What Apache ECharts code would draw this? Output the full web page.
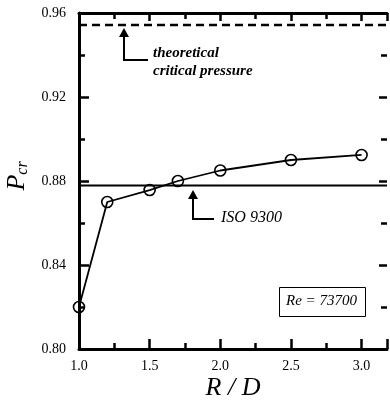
<!DOCTYPE html>
<html><head><meta charset="utf-8">
<script src="https://cdn.jsdelivr.net/npm/echarts@6/dist/echarts.min.js"></script>
<style>html,body{margin:0;padding:0;background:#fff}#c{width:390px;height:402px}</style>
</head><body><div id="c"></div>
<script>
const rdValues = [1.0, 1.2, 1.5, 1.7, 2.0, 2.5, 3.0];
const pcrValues = [0.820, 0.870, 0.8757, 0.880, 0.885, 0.890, 0.8924];
const isoValue = 0.8778;
const theoreticalValue = 0.9543;
const yTicks = [0.80, 0.84, 0.88, 0.92, 0.96];
const xTickLabels = ['1.0', '1.5', '2.0', '2.5', '3.0'];

const serif = '"Liberation Serif", "DejaVu Serif", serif';
const chart = echarts.init(document.getElementById('c'), null, {renderer: 'canvas'});
const axisCommon = {
  type: 'value',
  axisLine: {show: true, lineStyle: {color: '#000', width: 3}},
  splitLine: {show: false},
};
chart.setOption({
  animation: false,
  backgroundColor: '#fff',
  grid: {left: 79, right: 0, top: 13, bottom: 53},
  xAxis: [
    Object.assign({}, axisCommon, {
      min: 1.0, max: 3.18, interval: 0.5, position: 'bottom',
      axisTick: {show: true, inside: true, length: 10, lineStyle: {color: '#000', width: 2.5}},
      minorTick: {show: true, splitNumber: 2, length: 6, lineStyle: {color: '#000', width: 2.5}},
      axisLabel: {margin: 10, color: '#000', fontFamily: serif, fontSize: 14,
        formatter: v => { const s = v.toFixed(1); return xTickLabels.includes(s) ? s : ''; }},
      showMaxLabel: false
    }),
    Object.assign({}, axisCommon, {
      min: 1.0, max: 3.18, interval: 0.5, position: 'top',
      axisTick: {show: true, inside: true, length: 8, lineStyle: {color: '#000', width: 2.5}},
      minorTick: {show: true, splitNumber: 2, length: 6, lineStyle: {color: '#000', width: 2.5}},
      axisLabel: {show: false}
    })
  ],
  yAxis: [
    Object.assign({}, axisCommon, {
      min: 0.80, max: 0.96, interval: 0.04, position: 'left',
      axisTick: {show: true, inside: true, length: 10, lineStyle: {color: '#000', width: 2.5}},
      minorTick: {show: true, splitNumber: 2, length: 6, lineStyle: {color: '#000', width: 2.5}},
      axisLabel: {margin: 13, color: '#000', fontFamily: serif, fontSize: 14,
        formatter: v => { const s = v.toFixed(2); return yTicks.map(t => t.toFixed(2)).includes(s) ? s : ''; }}
    }),
    Object.assign({}, axisCommon, {
      min: 0.80, max: 0.96, interval: 0.04, position: 'right',
      axisLine: {show: false},
      axisTick: {show: true, inside: true, length: 8, lineStyle: {color: '#000', width: 2.5}},
      minorTick: {show: true, splitNumber: 2, length: 6, lineStyle: {color: '#000', width: 2.5}},
      axisLabel: {show: false}
    })
  ],
  series: [
    {
      type: 'line', xAxisIndex: 0, yAxisIndex: 0,
      data: [[1.0, theoreticalValue], [3.18, theoreticalValue]],
      symbol: 'none', lineStyle: {color: '#000', width: 2.5, type: [8, 5]}, z: 2
    },
    {
      type: 'line', xAxisIndex: 0, yAxisIndex: 0,
      data: [[1.0, isoValue], [3.18, isoValue]],
      symbol: 'none', lineStyle: {color: '#000', width: 2}, z: 2
    },
    {
      type: 'line', xAxisIndex: 0, yAxisIndex: 0,
      data: rdValues.map((x, i) => [x, pcrValues[i]]),
      symbol: 'circle', symbolSize: 11,
      lineStyle: {color: '#000', width: 1.8},
      itemStyle: {color: 'rgba(255,255,255,0)', borderColor: '#000', borderWidth: 1.6},
      z: 3
    }
  ],
  graphic: [
    {type: 'polyline', shape: {points: [[124, 36], [124, 60], [148, 60]]}, style: {stroke: '#000', lineWidth: 2, fill: null}},
    {type: 'polygon', shape: {points: [[124, 28], [119, 37], [129, 37]]}, style: {fill: '#000'}},
    {type: 'text', left: 153, top: 46, style: {text: 'theoretical', font: 'italic bold 15px ' + serif, fill: '#000'}},
    {type: 'text', left: 153, top: 64, style: {text: 'critical pressure', font: 'italic bold 15px ' + serif, fill: '#000'}},
    {type: 'polyline', shape: {points: [[193, 198], [193, 219], [214, 219]]}, style: {stroke: '#000', lineWidth: 2, fill: null}},
    {type: 'polygon', shape: {points: [[193, 190], [188, 199], [198, 199]]}, style: {fill: '#000'}},
    {type: 'text', left: 221, top: 210, style: {text: 'ISO 9300', font: 'italic 16px ' + serif, fill: '#000'}},
    {type: 'rect', shape: {x: 279.5, y: 287.5, width: 86, height: 29}, style: {stroke: '#000', lineWidth: 1, fill: '#fff'}},
    {type: 'text', left: 286, top: 294, style: {text: 'Re = 73700', font: 'italic 15px ' + serif, fill: '#000'}},
    {type: 'text', x: 17, y: 176, rotation: Math.PI / 2, style: {
      text: '{p|P}{s|cr}', align: 'center', verticalAlign: 'middle',
      rich: {
        p: {font: 'italic 26px ' + serif, fill: '#000'},
        s: {font: 'italic 16px ' + serif, fill: '#000', padding: [12, 0, 0, 0]}
      }
    }},
    {type: 'text', x: 233, y: 388, style: {text: 'R / D', align: 'center', verticalAlign: 'middle', font: 'italic 26px ' + serif, fill: '#000'}}
  ]
});
</script></body></html>
